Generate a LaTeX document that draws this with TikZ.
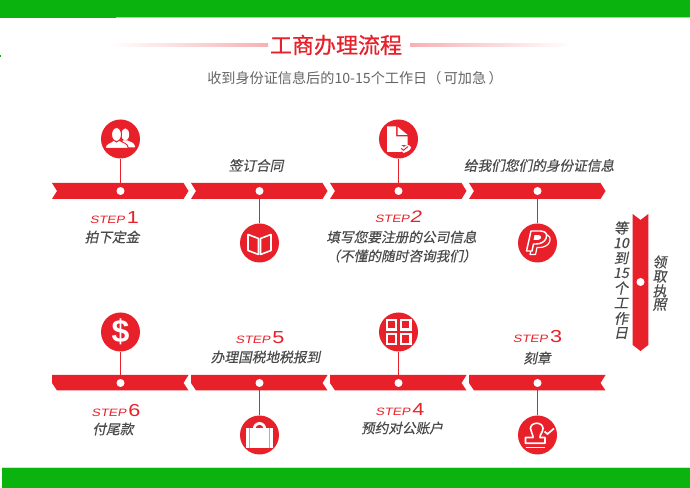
\documentclass[tikz,border=0pt]{standalone}
\usepackage{fontspec}
\usetikzlibrary{positioning}
\newfontfamily\cjkreg{Noto Sans CJK SC}
\newfontfamily\cjkbold[FakeBold=0.6]{Noto Sans CJK SC}
\newfontfamily\cjkit[FakeSlant=0.2,FakeBold=0.35]{Noto Sans CJK SC}
\newfontfamily\stepfont[FakeStretch=1.25,FakeSlant=0.2]{Liberation Sans}
\newfontfamily\digitfont[FakeStretch=1.25]{Liberation Sans}
\newfontfamily\dollarfont{Liberation Sans}
\definecolor{rred}{HTML}{E8202A}
\definecolor{ggreen}{HTML}{0AB30E}
\definecolor{ttext}{HTML}{4A4A4A}
\tikzset{
  x=0.75pt,y=-0.75pt,
  ribbon/.style={fill=rred,draw=none},
  dotnode/.style={circle,fill=white,draw=none,minimum size=8*0.75pt,inner sep=0pt},
  iconnode/.style={circle,fill=rred,draw=none,minimum size=39*0.75pt,inner sep=0pt},
  stem/.style={draw=rred,line width=1.6*0.75pt},
  label/.style={inner sep=0pt,text=ttext,font=\cjkit\fontsize{10.25pt}{12pt}\selectfont},
  steplabel/.style={inner sep=0pt,text=rred},
  vchar/.style={inner sep=0pt,text=ttext,font=\cjkit\fontsize{10.6pt}{12pt}\selectfont},
  whiteline/.style={draw=white,line width=1.6*0.75pt},
}
\newcommand{\stepmark}[1]{{\stepfont\fontsize{8pt}{10pt}\selectfont STEP}\,{\digitfont\fontsize{13pt}{10pt}\selectfont #1}}
\begin{document}
\begin{tikzpicture}
\useasboundingbox (0,0) rectangle (690,488);
\fill[white] (0,0) rectangle (690,488);
% green bands
\fill[ggreen] (0,0) rectangle (116,18);
\fill[ggreen] (116,0) rectangle (690,17.5);
\fill[ggreen!45] (116,17.5) rectangle (690,18.5);
\fill[ggreen] (0,55) rectangle (1.5,57.5);
\fill[ggreen!25] (2,467.2) rectangle (690,468.2);
\fill[ggreen] (2,468) rectangle (690,488);
% title
\node[inner sep=0pt,text=rred,font=\cjkbold\fontsize{16.5pt}{18pt}\selectfont] (title) at (336,45) {工商办理流程};
\node[inner sep=0pt,text=ttext!85,font=\cjkreg\fontsize{10.6pt}{12pt}\selectfont] (sub) at (355,78) {收到身份证信息后的10-15个工作日（\,可加急\,）};
\shade[left color=white,right color=rred!35] (110,43.7) rectangle (268,46.3);
\shade[left color=rred!35,right color=white] (410,43.7) rectangle (572,46.3);
% top ribbons
\foreach \a in {52,191,330,469}{
  \fill[ribbon] (\a,183) -- (\a+131.5,183) -- (\a+136.5,191) -- (\a+131.5,199) -- (\a,199) -- (\a+5,191) -- cycle;
}
% bottom ribbons
\foreach \a in {52,191,330,469}{
  \fill[ribbon] (\a,375) -- (\a+136.5,375) -- (\a+131.5,383) -- (\a+136.5,390.5) -- (\a+5,390.5) -- (\a,383) -- cycle;
}
% vertical ribbon
\fill[ribbon] (632.7,214) -- (640.5,220) -- (648.3,214) -- (648.3,345) -- (640.5,351) -- (632.7,345) -- cycle;
% nodes: dots and icons
\node[dotnode] (d1) at (120.5,191) {};
\node[dotnode] (d2) at (259.5,191) {};
\node[dotnode] (d3) at (398.5,191) {};
\node[dotnode] (d4) at (537.5,191) {};
\node[dotnode] (d5) at (537.5,383) {};
\node[dotnode] (d6) at (398.5,383) {};
\node[dotnode] (d7) at (259.5,383) {};
\node[dotnode] (d8) at (120.5,383) {};
\node[dotnode] (dv) at (640.5,282) {};
\node[iconnode] (c1) at (120.5,139) {};
\node[iconnode] (c2) at (259.5,243) {};
\node[iconnode] (c3) at (398.5,139) {};
\node[iconnode] (c4) at (537.5,243) {};
\node[iconnode] (c5) at (537.5,435) {};
\node[iconnode] (c6) at (398.5,332) {};
\node[iconnode] (c7) at (259.5,435) {};
\node[iconnode,text=white,font=\dollarfont\bfseries\fontsize{24pt}{24pt}\selectfont] (c8) at (120.5,332) {\$};
\foreach \c/\d in {c1/d1,c2/d2,c3/d3,c4/d4,c5/d5,c6/d6,c7/d7,c8/d8}{
  \draw[stem] (\c) -- (\d);
}
% people icon
\begin{scope}[shift={(c1.center)}]
  \fill[white] (4.8,-4.5) ellipse (3.8 and 6.2);
  \fill[white] (2,1.5) -- (7,1.5) .. controls (10,3) and (14,3) .. (14.8,8.5) -- (2,8.5) -- cycle;
  \filldraw[fill=white,draw=rred,line width=0.7pt] (-4,-4.5) ellipse (5 and 7);
  \filldraw[fill=white,draw=rred,line width=0.7pt] (-7,1.2) .. controls (-9,4) and (-15,3.5) .. (-15.5,9.4) -- (8,9.4) .. controls (7.5,3.5) and (1.5,4) .. (-1,1.2) -- (-4,3) -- cycle;
\end{scope}
% book icon
\begin{scope}[shift={(c2.center)}]
  \draw[whiteline,line join=round] (-11.5,-8.5) -- (-1,-4.5) -- (-1,11.5) -- (-11.5,7.5) -- cycle;
  \draw[whiteline,line join=round] (11.5,-8.5) -- (1,-4.5) -- (1,11.5) -- (11.5,7.5) -- cycle;
\end{scope}
% document icon
\begin{scope}[shift={(c3.center)}]
  \fill[white] (-11.5,-12.5) -- (-2.5,-12.5) -- (-2.5,-2.5) -- (9,-2.5) -- (9,6) -- (3,6) -- (3,13) -- (-11.5,13) -- cycle;
  \fill[white] (-0.8,-12.2) -- (9,-4.2) -- (-0.8,-4.2) -- cycle;
  \fill[white] (5,14) -- (0,9) .. controls (-0.5,6) and (4,5.5) .. (5.5,8.2) .. controls (7,5) and (12,5.5) .. (12.5,8.5) .. controls (12.5,11) and (8,13) .. (5,14) -- cycle;
  \draw[rred,line width=0.7pt] (2.5,9.3) -- (5,11.3) -- (9.5,7.5);
\end{scope}
% paypal icon
\begin{scope}[shift={(c4.center)}]
  \def\pshape{(-11,8) -- (-6.5,-12) -- (3,-12) .. controls (9,-12) and (10,-8) .. (8.5,-4.5) .. controls (7,-1) and (3,1) .. (-1.5,1) -- (-4,1) -- (-5.5,8) -- cycle}
  \filldraw[fill=rred,draw=white,line width=0.9pt,line join=round,shift={(3.5,3.5)}] \pshape;
  \filldraw[fill=rred,draw=white,line width=1.1pt,line join=round] \pshape;
  \filldraw[fill=white,draw=none] (-3,-7.8) -- (1.5,-7.8) .. controls (4.5,-7.8) and (4.5,-3) .. (0,-3) -- (-4,-3) -- cycle;
\end{scope}
% stamp icon
\begin{scope}[shift={(c5.center)}]
  \draw[whiteline,line join=round] (-12,8.3) -- (-12,2.5) -- (-4.5,2.5) .. controls (-4,0) and (-7,-3) .. (-7,-6.5) .. controls (-7,-13.5) and (5.5,-13.5) .. (5.5,-6.5) .. controls (5.5,-3) and (2,0) .. (2.5,2.5) -- (7.5,2.5) -- (7.5,8.3) -- cycle;
  \draw[whiteline] (-12,12.5) -- (7.5,12.5);
  \draw[white,line width=1.7*0.75pt] (7,-3.5) -- (10,-1) -- (16.5,-6.5);
\end{scope}
% grid icon
\begin{scope}[shift={(c6.center)}]
  \foreach \u in {-11.8,2.3}{\foreach \v in {-11.8,2.3}{
    \draw[white,line width=2.4*0.75pt] (\u,\v) rectangle (\u+9.5,\v+9.5);
  }}
\end{scope}
% bag icon
\begin{scope}[shift={(c7.center)}]
  \fill[white] (-6.7,-6) arc[start angle=180,end angle=360,x radius=6.7,y radius=7] -- cycle;
  \fill[rred] (-4,-6) arc[start angle=180,end angle=360,x radius=4,y radius=4.2] -- cycle;
  \fill[white] (-13.7,-6.5) rectangle (13.7,13.5);
  \draw[rred!50,line width=0.8pt] (-10,-6.5) -- (-10,13.5) (10,-6.5) -- (10,13.5);
\end{scope}
% labels
\node[steplabel] (s1) at (114.5,218) {\stepmark{1}};
\node[label] (t1) at (112,237) {拍下定金};
\node[label] (t2) at (256,165.5) {签订合同};
\node[steplabel] (s2) at (398,217) {{\stepfont\fontsize{8pt}{10pt}\selectfont STEP}{\stepfont\fontsize{12.5pt}{10pt}\selectfont 2}};
\node[label] (t3a) at (401.5,237) {填写您要注册的公司信息};
\node[label] (t3b) at (401.5,256) {（不懂的随时咨询我们）};
\node[label] (t4) at (539,165.5) {给我们您们的身份证信息};
\node[steplabel] (s6) at (116,411) {\stepmark{6}};
\node[label] (t6) at (113,429) {付尾款};
\node[steplabel] (s5) at (260,338) {\stepmark{5}};
\node[label] (t5) at (265.5,357) {办理国税地税报到};
\node[steplabel] (s4) at (400,410) {\stepmark{4}};
\node[label] (t7) at (402,428) {预约对公账户};
\node[steplabel] (s3) at (537.5,337) {\stepmark{3}};
\node[label] (t8) at (537,358) {刻章};
% vertical text
\node[vchar] (v1) at (621,228) {等};
\node[vchar] (v2) at (621,243) {10};
\node[vchar] (v3) at (621,258) {到};
\node[vchar] (v4) at (621,273) {15};
\node[vchar] (v5) at (621,288) {个};
\node[vchar] (v6) at (621,303) {工};
\node[vchar] (v7) at (621,318.5) {作};
\node[vchar] (v8) at (621,333) {日};
\node[vchar] (w1) at (659.5,262) {领};
\node[vchar] (w2) at (659.5,276.5) {取};
\node[vchar] (w3) at (659.5,291) {执};
\node[vchar] (w4) at (659.5,304.5) {照};
\end{tikzpicture}
\end{document}
